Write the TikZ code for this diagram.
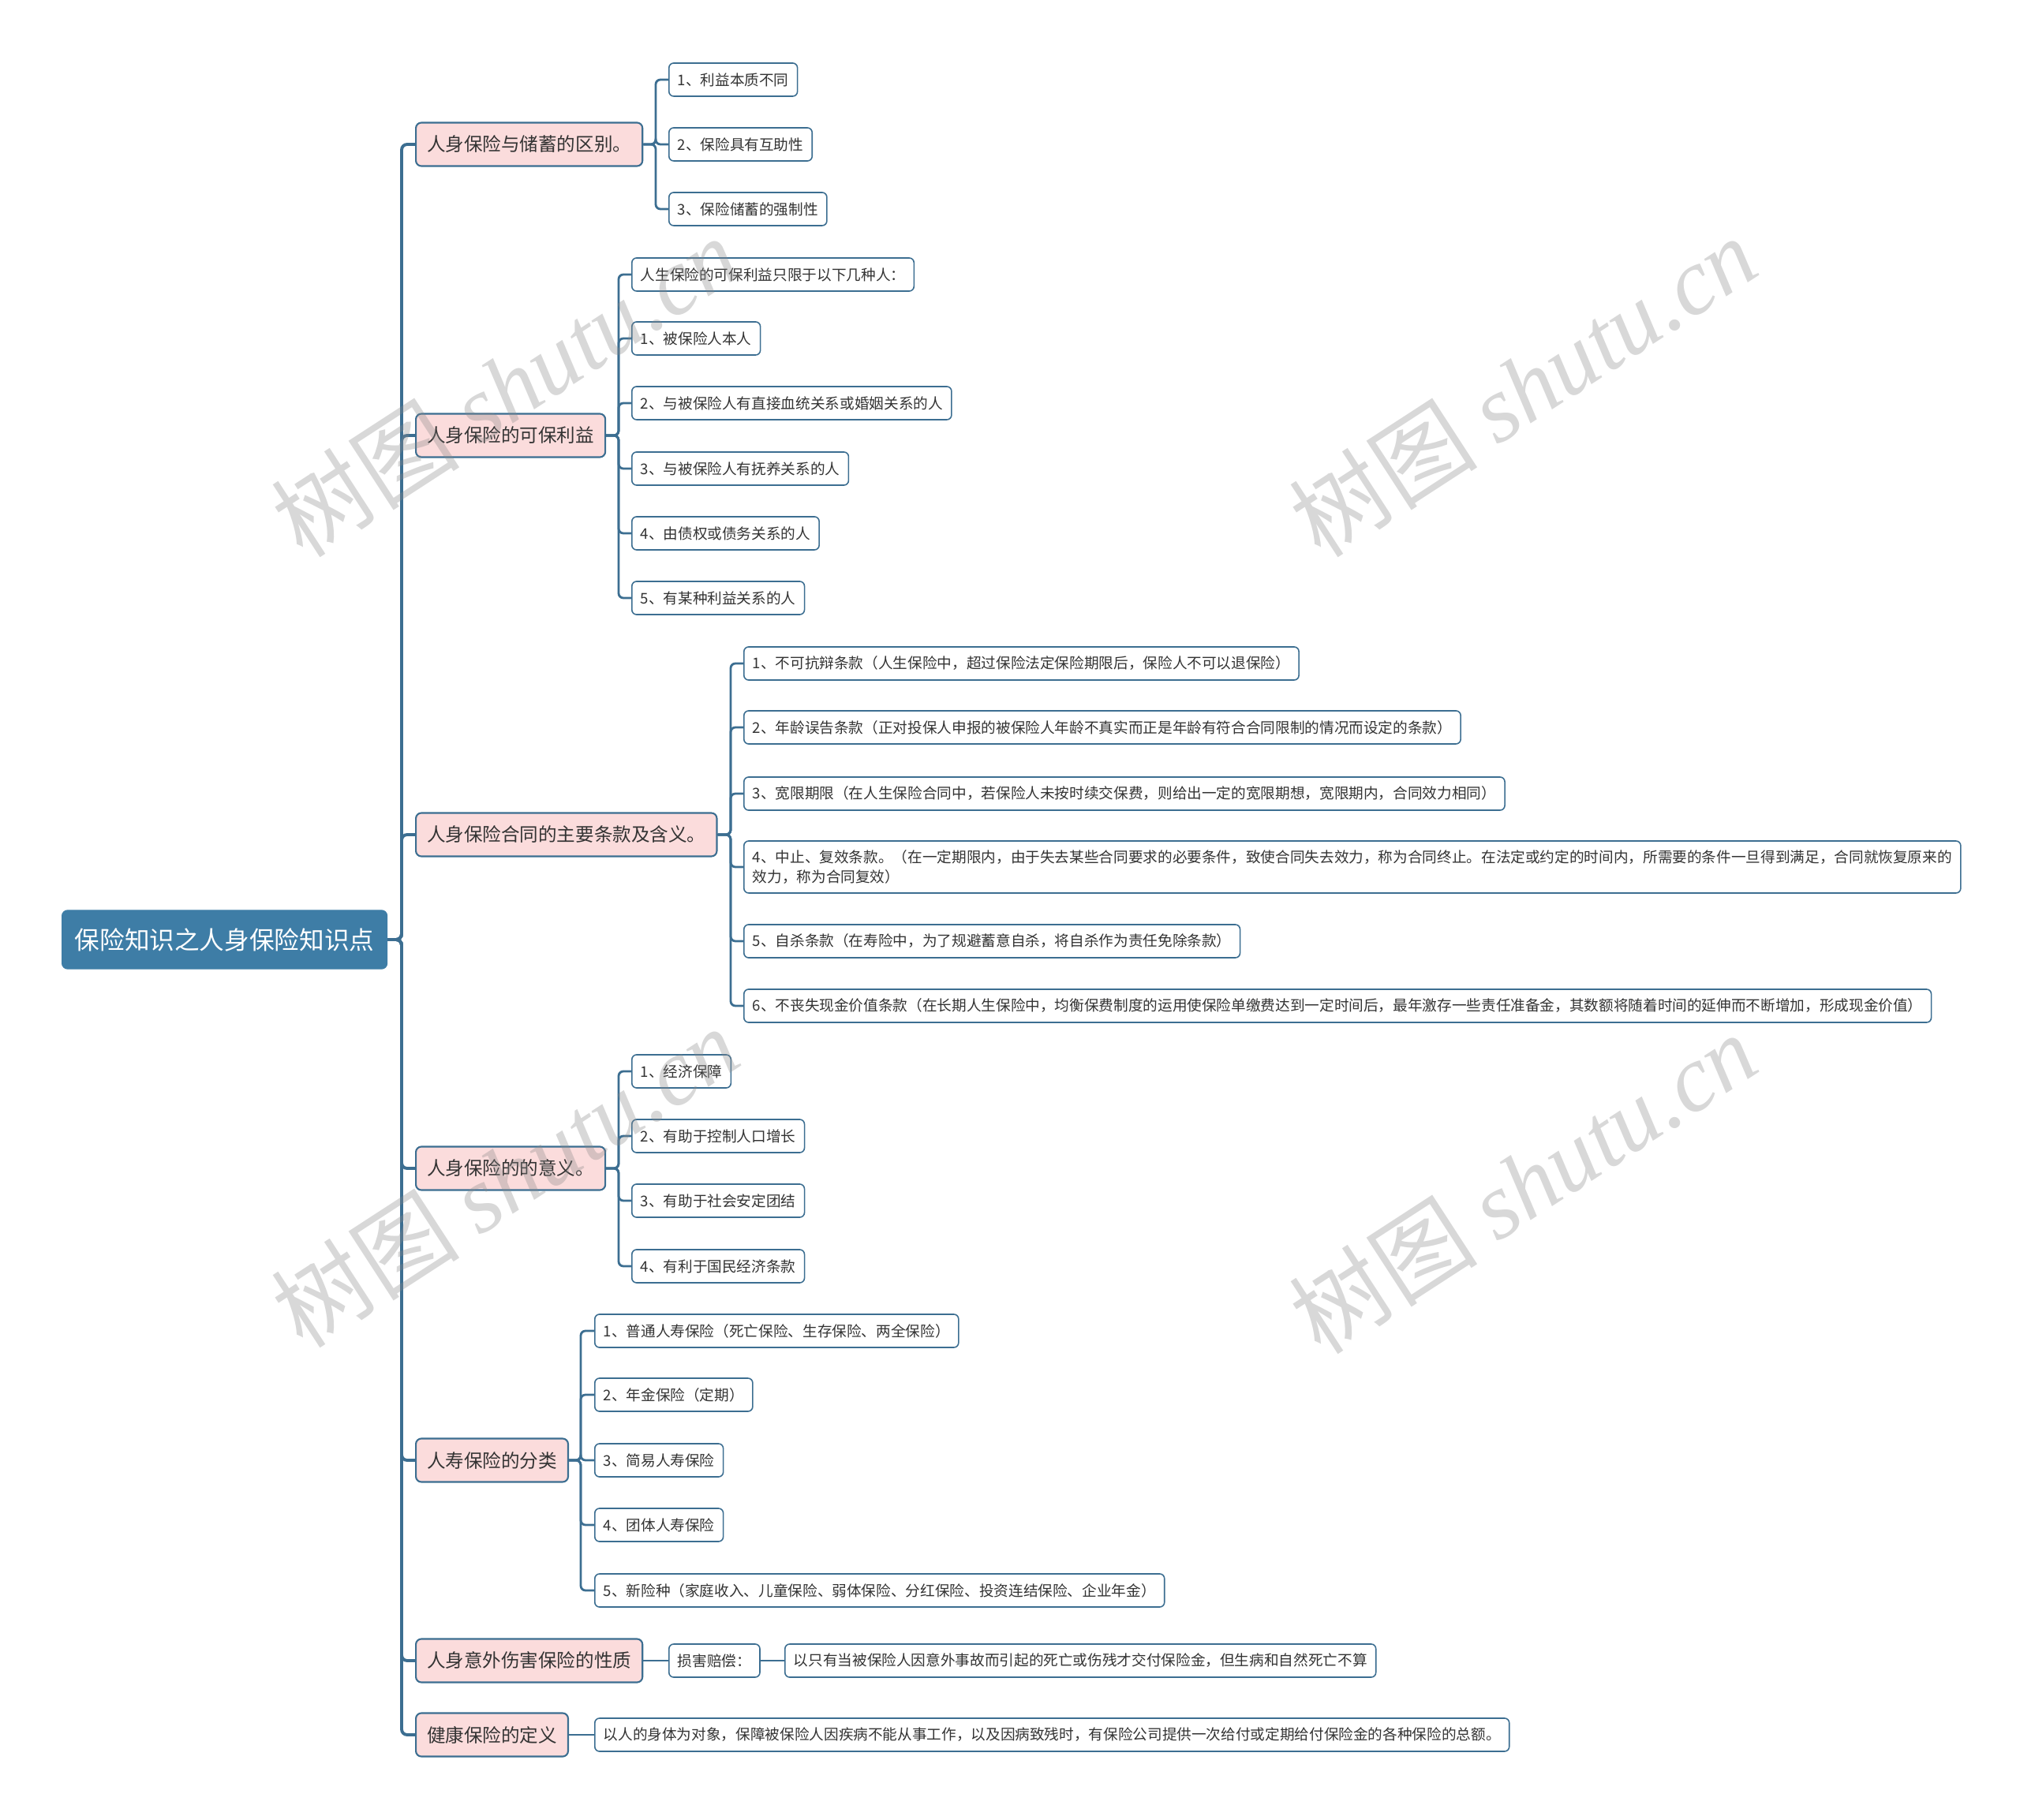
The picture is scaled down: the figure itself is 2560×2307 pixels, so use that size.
\documentclass[tikz,border=0pt]{standalone}
\usepackage{fontspec}
\setmainfont{Noto Sans CJK SC}
\newfontfamily\wmserif{Liberation Serif}
\usetikzlibrary{positioning}
\definecolor{MapBlue}{HTML}{3C6E91}
\definecolor{RootBlue}{HTML}{3E7DA6}
\definecolor{TopicPink}{HTML}{FBDCDC}
\definecolor{TextGray}{HTML}{333333}
\definecolor{MarkGray}{HTML}{888888}

\begin{document}
\begin{tikzpicture}[
    x=0.01cm, y=-0.01cm,
    root/.style={anchor=west, fill=RootBlue, draw=RootBlue, rounded corners=0.07cm, text=white, minimum height=0.74cm, inner xsep=0.16cm, font=\fontsize{9pt}{11pt}\selectfont},
    topic/.style={anchor=west, fill=TopicPink, draw=MapBlue, line width=0.6pt, rounded corners=0.07cm, text=TextGray, minimum height=0.55cm, inner xsep=0.14cm, font=\fontsize{6.7pt}{8pt}\selectfont},
    leaf/.style={anchor=west, fill=white, draw=MapBlue, line width=0.45pt, rounded corners=0.06cm, text=TextGray, minimum height=0.42cm, inner xsep=0.11cm, align=left, font=\fontsize{5.3pt}{7pt}\selectfont},
    conn/.style={draw=MapBlue, line width=1.1pt, rounded corners=0.07cm},
    subconn/.style={draw=MapBlue, line width=0.8pt, rounded corners=0.06cm},
    wmark/.style={text=MarkGray, text opacity=0.33, rotate=33, font=\fontsize{34pt}{38pt}\selectfont}
]
\useasboundingbox (0,0) rectangle (2560,2307);

% root and main topics
\node[root] (root) at (78,1191) {保险知识之人身保险知识点};
\node[topic] (a) at (526,183) {人身保险与储蓄的区别。};
\node[topic] (b) at (526,552) {人身保险的可保利益};
\node[topic] (c) at (526,1058) {人身保险合同的主要条款及含义。};
\node[topic] (d) at (526,1481) {人身保险的的意义。};
\node[topic] (e) at (526,1851) {人寿保险的分类};
\node[topic] (f) at (526,2105) {人身意外伤害保险的性质};
\node[topic] (g) at (526,2199) {健康保险的定义};

% leaves
\node[leaf] (a1) at (847,101) {1、利益本质不同};
\node[leaf] (a2) at (847,183) {2、保险具有互助性};
\node[leaf] (a3) at (847,265) {3、保险储蓄的强制性};

\node[leaf] (b0) at (800,348) {人生保险的可保利益只限于以下几种人：};
\node[leaf] (b1) at (800,429) {1、被保险人本人};
\node[leaf] (b2) at (800,511) {2、与被保险人有直接血统关系或婚姻关系的人};
\node[leaf] (b3) at (800,594) {3、与被保险人有抚养关系的人};
\node[leaf] (b4) at (800,676) {4、由债权或债务关系的人};
\node[leaf] (b5) at (800,758) {5、有某种利益关系的人};

\node[leaf] (c1) at (942,841) {1、不可抗辩条款（人生保险中，超过保险法定保险期限后，保险人不可以退保险）};
\node[leaf] (c2) at (942,922) {2、年龄误告条款（正对投保人申报的被保险人年龄不真实而正是年龄有符合合同限制的情况而设定的条款）};
\node[leaf] (c3) at (942,1006) {3、宽限期限（在人生保险合同中，若保险人未按时续交保费，则给出一定的宽限期想，宽限期内，合同效力相同）};
\node[leaf] (c4) at (942,1099) {4、中止、复效条款。（在一定期限内，由于失去某些合同要求的必要条件，致使合同失去效力，称为合同终止。在法定或约定的时间内，所需要的条件一旦得到满足，合同就恢复原来的\\效力，称为合同复效）};
\node[leaf] (c5) at (942,1193) {5、自杀条款（在寿险中，为了规避蓄意自杀，将自杀作为责任免除条款）};
\node[leaf] (c6) at (942,1275) {6、不丧失现金价值条款（在长期人生保险中，均衡保费制度的运用使保险单缴费达到一定时间后，最年激存一些责任准备金，其数额将随着时间的延伸而不断增加，形成现金价值）};

\node[leaf] (d1) at (800,1358) {1、经济保障};
\node[leaf] (d2) at (800,1440) {2、有助于控制人口增长};
\node[leaf] (d3) at (800,1522) {3、有助于社会安定团结};
\node[leaf] (d4) at (800,1605) {4、有利于国民经济条款};

\node[leaf] (e1) at (753,1687) {1、普通人寿保险（死亡保险、生存保险、两全保险）};
\node[leaf] (e2) at (753,1768) {2、年金保险（定期）};
\node[leaf] (e3) at (753,1851) {3、简易人寿保险};
\node[leaf] (e4) at (753,1933) {4、团体人寿保险};
\node[leaf] (e5) at (753,2016) {5、新险种（家庭收入、儿童保险、弱体保险、分红保险、投资连结保险、企业年金）};

\node[leaf] (f1) at (847,2105) {损害赔偿：};
\node[leaf] (f2) at (994,2105) {以只有当被保险人因意外事故而引起的死亡或伤残才交付保险金，但生病和自然死亡不算};

\node[leaf] (g1) at (753,2199) {以人的身体为对象，保障被保险人因疾病不能从事工作，以及因病致残时，有保险公司提供一次给付或定期给付保险金的各种保险的总额。};

% connectors
\foreach \t in {a,b,c,d,e,f,g}
    \draw[conn] (root.east) -| ([xshift=-0.17cm]\t.west) -- (\t.west);
\foreach \i in {1,2,3}
    \draw[subconn] (a.east) -| ([xshift=-0.16cm]a\i.west) -- (a\i.west);
\foreach \i in {0,...,5}
    \draw[subconn] (b.east) -| ([xshift=-0.16cm]b\i.west) -- (b\i.west);
\foreach \i in {1,...,6}
    \draw[subconn] (c.east) -| ([xshift=-0.16cm]c\i.west) -- (c\i.west);
\foreach \i in {1,...,4}
    \draw[subconn] (d.east) -| ([xshift=-0.16cm]d\i.west) -- (d\i.west);
\foreach \i in {1,...,5}
    \draw[subconn] (e.east) -| ([xshift=-0.17cm]e\i.west) -- (e\i.west);
\draw[subconn] (f.east) -- (f1.west);
\draw[subconn] (f1.east) -- (f2.west);
\draw[subconn] (g.east) -- (g1.west);

% watermarks
\foreach \wx/\wy in {640/490, 1930/490, 640/1492, 1930/1500}
    \node[wmark] at (\wx,\wy) {树图 {\wmserif\itshape shutu.cn}};
\end{tikzpicture}
\end{document}
